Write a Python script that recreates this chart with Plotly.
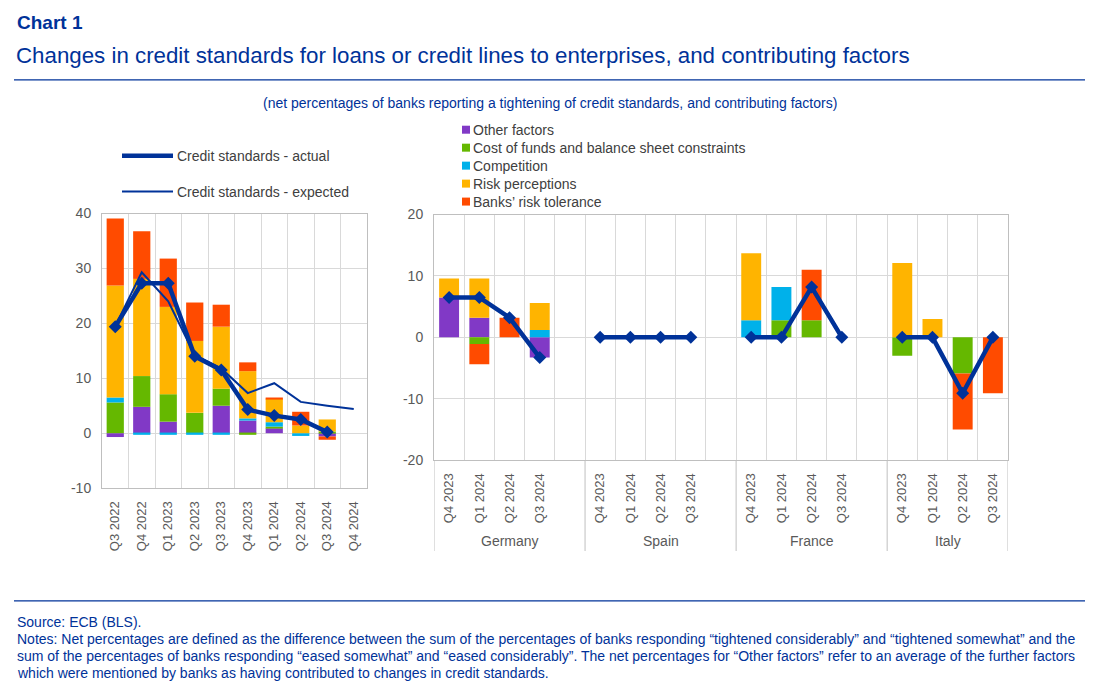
import plotly.graph_objects as go

# ---------------- DATA ----------------
left_quarters = ["Q3 2022", "Q4 2022", "Q1 2023", "Q2 2023", "Q3 2023",
                 "Q4 2023", "Q1 2024", "Q2 2024", "Q3 2024", "Q4 2024"]
other_l = [-0.7, 4.8, 2.1, 0.0, 5.0, 2.3, 0.9, 0.0, -0.6, None]
cost_l = [5.6, 5.6, 5.0, 3.7, 3.1, -0.3, 0.3, 0.0, 0.3, None]
comp_l = [0.9, -0.3, -0.3, -0.3, -0.3, 0.4, 0.8, -0.5, 0.0, None]
risk_l = [20.4, 17.7, 15.9, 13.1, 11.3, 8.6, 4.3, 1.4, 2.2, None]
tol_l = [12.2, 8.7, 8.8, 7.0, 4.0, 1.6, 0.2, 2.5, -0.6, None]
actual_l = [19.4, 27.3, 27.3, 14.0, 11.5, 4.3, 3.2, 2.5, 0.2, None]
expected_l = [19.5, 29.3, 24.0, 14.2, 11.8, 7.3, 9.1, 5.7, 5.0, 4.4]
left_yticks = [-10, 0, 10, 20, 30, 40]
left_yticktext = ["-10", "0", "10", "20", "30", "40"]

countries = ["Germany", "Spain", "France", "Italy"]
right_quarters = ["Q4 2023", "Q1 2024", "Q2 2024", "Q3 2024"]
other_r = {"Germany": [6.5, 3.2, 0.0, -3.3], "Spain": [0, 0, 0, 0],
           "France": [0, 0, 0, 0], "Italy": [0, 0, 0, 0]}
cost_r = {"Germany": [0, -1.1, 0, 0], "Spain": [0, 0, 0, 0],
          "France": [0, 2.8, 2.8, 0], "Italy": [-3.0, 0, -5.9, 0]}
comp_r = {"Germany": [0, 0, 0, 1.2], "Spain": [0, 0, 0, 0],
          "France": [2.8, 5.4, 0, 0], "Italy": [0, 0, 0, 0]}
risk_r = {"Germany": [3.1, 6.4, 0, 4.4], "Spain": [0, 0, 0, 0],
          "France": [10.9, 0, 0, 0], "Italy": [12.1, 3.0, 0, 0]}
tol_r = {"Germany": [0, -3.3, 3.2, 0], "Spain": [0, 0, 0, 0],
         "France": [0, 0, 8.2, 0], "Italy": [0, 0, -9.1, -9.1]}
actual_r = {"Germany": [6.5, 6.5, 3.2, -3.3], "Spain": [0, 0, 0, 0],
            "France": [0, 0, 8.2, 0], "Italy": [0, 0, -9.1, 0]}
right_yticks = [-20, -10, 0, 10, 20]
right_yticktext = ["-20", "-10", "0", "10", "20"]

# ---------------- STYLE ----------------
NAVY = "#003299"
C_OTHER = "#8139c6"
C_COST = "#65b800"
C_COMP = "#00b1ea"
C_RISK = "#ffb400"
C_TOL = "#ff4b00"
GRID = "#d9d9d9"
TICK = "#595959"
LEG = "#404040"
FONT = "Liberation Sans, Arial, sans-serif"
OX = 8                 # page body margin (horizontal)
W, H = 1077, 676       # figure size so page fits the window
VOFF, VS = 14.1, 0.978  # vertical placement of the photographed figure


def px(x):
    return (x - OX) / W


def py(y):
    return 1 - ((y - VOFF) / VS) / H


# ---------- positions in right panel (4 slots per country + 1 spacer) ----------
slot = 5
right_x = []
right_text = []
for ci, c in enumerate(countries):
    for qi, q in enumerate(right_quarters):
        right_x.append(ci * slot + qi)
        right_text.append(q)


def flat(d):
    out = []
    for c in countries:
        out.extend(d[c])
    return out


line_x, line_y = [], []
for ci, c in enumerate(countries):
    for qi in range(len(right_quarters)):
        line_x.append(ci * slot + qi)
        line_y.append(actual_r[c][qi])
    if ci < len(countries) - 1:
        line_x.append(ci * slot + len(right_quarters))
        line_y.append(None)

left_x = list(range(len(left_quarters)))

fig = go.Figure()

series = [("Other factors", other_l, other_r, C_OTHER),
          ("Cost of funds and balance sheet constraints", cost_l, cost_r, C_COST),
          ("Competition", comp_l, comp_r, C_COMP),
          ("Risk perceptions", risk_l, risk_r, C_RISK),
          ("Banks\u2019 risk tolerance", tol_l, tol_r, C_TOL)]

for name, lv, rv, col in series:
    fig.add_trace(go.Bar(x=left_x, y=lv, name=name, marker_color=col,
                         marker_line_width=0, showlegend=False,
                         xaxis="x", yaxis="y", width=0.65))
for name, lv, rv, col in series:
    fig.add_trace(go.Bar(x=right_x, y=flat(rv), name=name, marker_color=col,
                         marker_line_width=0, showlegend=False,
                         xaxis="x2", yaxis="y2", width=0.66))

fig.add_trace(go.Scatter(x=left_x, y=expected_l, mode="lines",
                         name="Credit standards - expected", showlegend=False,
                         line=dict(color=NAVY, width=2),
                         xaxis="x", yaxis="y"))
fig.add_trace(go.Scatter(x=left_x, y=actual_l, mode="lines+markers",
                         name="Credit standards - actual", showlegend=False,
                         line=dict(color=NAVY, width=4.5),
                         marker=dict(symbol="diamond", size=10, color=NAVY),
                         xaxis="x", yaxis="y"))
fig.add_trace(go.Scatter(x=line_x, y=line_y, mode="lines+markers",
                         name="Credit standards - actual", showlegend=False,
                         connectgaps=False,
                         line=dict(color=NAVY, width=4.5),
                         marker=dict(symbol="diamond", size=10, color=NAVY),
                         xaxis="x2", yaxis="y2"))

axis_common = dict(showline=True, linecolor="#bfbfbf", linewidth=1, mirror=True,
                   zeroline=False)
xtick_font = dict(family=FONT, size=13, color=TICK)
ytick_font = dict(family=FONT, size=14, color=TICK)

fig.update_layout(
    width=W, height=H, autosize=False,
    margin=dict(l=0, r=0, t=0, b=0),
    paper_bgcolor="white", plot_bgcolor="white",
    barmode="relative", bargap=0.34,
    font=dict(family=FONT, color=TICK),
    showlegend=False,
    xaxis=dict(domain=[px(102), px(367)], range=[-0.5, 9.5],
               tickmode="array", tickvals=left_x, ticktext=left_quarters,
               tickangle=-90, showgrid=False, ticks="outside", ticklen=7,
               tickcolor="rgba(0,0,0,0)", tickfont=xtick_font,
               minor=dict(tickmode="array",
                          tickvals=[i - 0.5 for i in range(len(left_quarters) + 1)],
                          showgrid=True, gridcolor=GRID, ticks=""),
               **axis_common),
    yaxis=dict(domain=[py(487), py(212)], range=[-10, 40],
               tickmode="array", tickvals=left_yticks, ticktext=left_yticktext,
               showgrid=True, gridcolor=GRID, ticks="outside", ticklen=7,
               tickcolor="rgba(0,0,0,0)", tickfont=ytick_font, **axis_common),
    xaxis2=dict(domain=[px(434), px(1008)], range=[-0.5, 18.5], anchor="y2",
                tickmode="array", tickvals=right_x, ticktext=right_text,
                tickangle=-90, showgrid=False, ticks="outside", ticklen=7,
                tickcolor="rgba(0,0,0,0)", tickfont=xtick_font,
                minor=dict(tickmode="array",
                           tickvals=[i - 0.5 for i in range(20)],
                           showgrid=True, gridcolor=GRID, ticks=""),
                **axis_common),
    yaxis2=dict(domain=[py(459), py(213)], range=[-20, 20], anchor="x2",
                tickmode="array", tickvals=right_yticks, ticktext=right_yticktext,
                showgrid=True, gridcolor=GRID, ticks="outside", ticklen=7,
                tickcolor="rgba(0,0,0,0)", tickfont=ytick_font, **axis_common),
)

# ---------- legends (drawn) ----------
line_leg = [("Credit standards - actual", 4.5, 154),
            ("Credit standards - expected", 2, 190)]
for name, lw, yy in line_leg:
    fig.add_shape(type="line", xref="paper", yref="paper", x0=px(122), x1=px(173),
                  y0=py(yy), y1=py(yy), line=dict(color=NAVY, width=lw))
    fig.add_annotation(x=px(175), y=py(yy), xref="paper", yref="paper", text=name,
                       showarrow=False, xanchor="left", yanchor="middle",
                       font=dict(family=FONT, size=14, color=LEG))
for i, (name, lv, rv, col) in enumerate(series):
    yy = 128 + 18 * i
    fig.add_shape(type="rect", xref="paper", yref="paper", x0=px(462), x1=px(470),
                  y0=py(yy + 4), y1=py(yy - 4), line=dict(width=0), fillcolor=col)
    fig.add_annotation(x=px(471), y=py(yy), xref="paper", yref="paper", text=name,
                       showarrow=False, xanchor="left", yanchor="middle",
                       font=dict(family=FONT, size=14, color=LEG))

# group separators and labels under the right panel
bounds = [-0.5, 4.5, 9.5, 14.5, 18.5]
for b in bounds:
    fig.add_shape(type="line", xref="x2", yref="paper", x0=b, x1=b,
                  y0=py(459), y1=py(550), line=dict(color="#bfbfbf", width=1))
for ci, c in enumerate(countries):
    lo = bounds[ci]
    hi = bounds[ci + 1]
    fig.add_annotation(x=(lo + hi) / 2, y=py(540), xref="x2", yref="paper",
                       text=c, showarrow=False, yanchor="middle",
                       font=dict(family=FONT, size=14, color=TICK))

# titles
fig.add_annotation(x=px(15), y=py(21), xref="paper", yref="paper", text="<b>Chart 1</b>",
                   showarrow=False, xanchor="left", yanchor="middle",
                   font=dict(family=FONT, size=19, color=NAVY))
fig.add_annotation(x=px(14), y=py(54), xref="paper", yref="paper",
                   text="Changes in credit standards for loans or credit lines to enterprises, and contributing factors",
                   showarrow=False, xanchor="left", yanchor="middle",
                   font=dict(family=FONT, size=22.3, color=NAVY))
fig.add_shape(type="line", xref="paper", yref="paper", x0=px(14), x1=px(1087),
              y0=py(78), y1=py(78), line=dict(color=NAVY, width=1.3))
fig.add_annotation(x=px(550), y=py(101), xref="paper", yref="paper",
                   text="(net percentages of banks reporting a tightening of credit standards, and contributing factors)",
                   showarrow=False, xanchor="center", yanchor="middle",
                   font=dict(family=FONT, size=14, color=NAVY))

# footer
fig.add_shape(type="line", xref="paper", yref="paper", x0=px(14), x1=px(1087),
              y0=py(600), y1=py(600), line=dict(color=NAVY, width=1.3))
notes = [
    "Source: ECB (BLS).",
    "Notes: Net percentages are defined as the difference between the sum of the percentages of banks responding \u201ctightened considerably\u201d and \u201ctightened somewhat\u201d and the",
    "sum of the percentages of banks responding \u201ceased somewhat\u201d and \u201ceased considerably\u201d. The net percentages for \u201cOther factors\u201d refer to an average of the further factors",
    "which were mentioned by banks as having contributed to changes in credit standards.",
]
for i, t in enumerate(notes):
    fig.add_annotation(x=px(15), y=py(621 + 17 * i), xref="paper", yref="paper",
                       text=t, showarrow=False, xanchor="left", yanchor="middle",
                       font=dict(family=FONT, size=14, color=NAVY))

fig.write_html("out.html")
